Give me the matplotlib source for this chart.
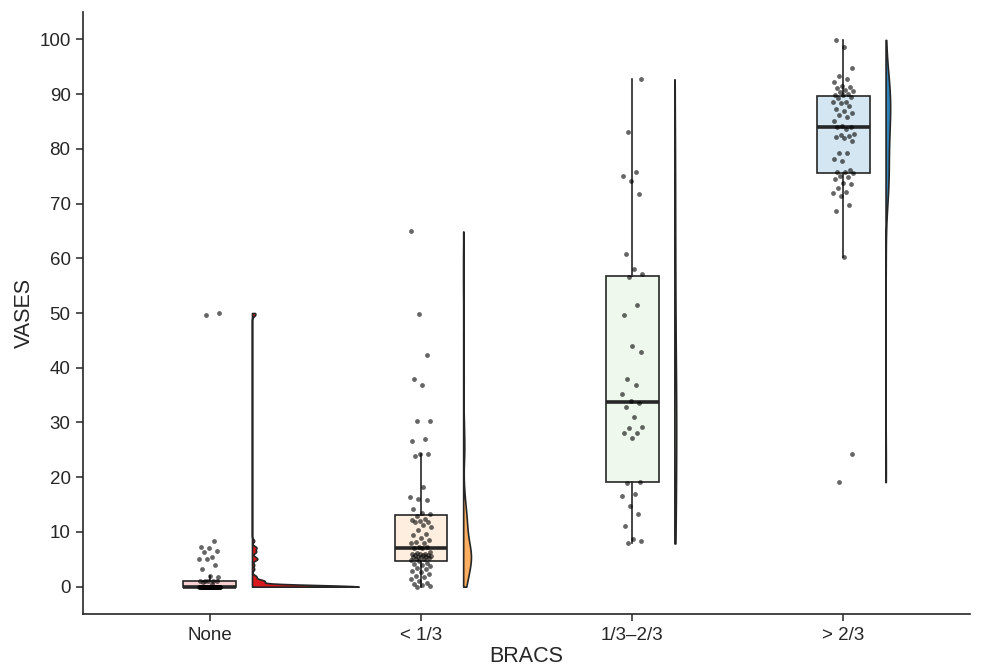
import numpy as np
import matplotlib
matplotlib.use('Agg')
import matplotlib.pyplot as plt
from matplotlib import cbook, mlab

plt.rcParams['font.family'] = ['Liberation Sans', 'DejaVu Sans']

groups = ['None', '< 1/3', '1/3–2/3', '> 2/3']
colors = ['#d7191c', '#fdae61', '#abdda4', '#2b83ba']

# VASES scores per BRACS group
vases_none = [0.0] * 49 + [0.5, 0.8, 1.0, 1.0, 1.1, 1.1, 1.1,
                           1.8, 1.9, 3.2, 4.0, 5.0, 5.0, 5.4, 6.3, 6.5, 7.1, 7.2, 8.4,
                           49.6, 50.0]
vases_low = [0.0, 0.1, 0.3, 0.5, 0.7, 1.0, 1.4, 1.7, 2.0, 2.3, 2.6, 2.9, 3.2, 3.5,
             3.8, 4.0, 4.2, 4.4, 4.6,
             4.9, 5.0, 5.1, 5.2, 5.4, 5.4, 5.5, 5.5, 5.6, 5.7, 5.8, 5.8, 5.9, 6.0,
             6.0, 6.2, 6.3, 7.0,
             7.0, 7.2, 7.3, 8.0, 8.0, 8.1, 8.6, 8.9, 9.5, 9.7, 10.4, 10.9, 11.2,
             11.9, 11.9, 12.0, 12.1, 12.4, 13.0,
             13.2, 13.4, 14.2, 15.8, 16.1, 16.3, 18.2, 23.9, 24.2, 24.3, 26.7,
             27.0, 30.3, 30.3, 36.9, 38.0, 42.3, 49.9, 64.9]
vases_mid = [7.9, 8.3, 8.8, 11.1, 13.2, 14.7, 16.6, 16.9, 18.9, 19.1, 27.2, 28.0,
             28.0, 29.0, 29.2, 31.0, 32.8, 33.6, 34.0, 35.2, 36.9, 37.9, 42.8, 43.9,
             49.7, 51.4, 56.6, 57.2, 58.0, 60.8, 71.7, 74.1, 75.0, 75.7, 83.0, 92.7]
vases_high = [19.1, 24.3, 60.2, 68.7, 69.8, 71.4, 71.9, 72.2, 72.8, 73.6, 73.8, 74.5,
              74.8, 75.1, 75.6, 75.7, 75.7, 76.2, 77.7, 78.2, 79.3, 79.3, 81.5, 81.9,
              82.2, 82.3, 82.5, 82.8, 83.7, 84.0, 84.0, 84.2, 85.0, 85.8, 86.1, 86.5,
              87.0, 87.3, 87.8, 88.3, 88.5, 88.6, 89.2, 89.5, 89.8, 89.9, 90.0, 90.3,
              90.5, 90.8, 91.1, 91.3, 91.5, 92.2, 92.8, 93.3, 94.8, 98.7, 99.9]

data = [vases_none, vases_low, vases_mid, vases_high]
pos = np.arange(len(groups))


def nrd0_kde(values, coords):
    # Gaussian KDE with Silverman's rule of thumb bandwidth (R's bw.nrd0)
    v = np.asarray(values, float)
    sd = v.std(ddof=1)
    q1, q3 = np.percentile(v, [25, 75])
    bw = 0.9 * min(sd, (q3 - q1) / 1.34) * len(v) ** -0.2
    return mlab.GaussianKDE(v, bw_method=bw / sd).evaluate(coords)


fig = plt.figure(figsize=(9.85, 6.68), dpi=100)
ax = fig.add_axes([0.0843, 0.0808, 0.9005, 0.9012])

# half violins, widths scaled so every violin has the same area
stats = cbook.violin_stats(data, nrd0_kde, points=512)
dmax = np.array([s['vals'].max() for s in stats])
widths = 1.01 * dmax / dmax.max()
vp = ax.violin(stats, positions=pos + 0.2, widths=widths, side='high',
               showextrema=False)
for body, c in zip(vp['bodies'], colors):
    body.set_facecolor(c)
    body.set_edgecolor('#262626')
    body.set_linewidth(1.2)
    body.set_alpha(1)

# boxes
bp = ax.boxplot(data, positions=pos, widths=0.25, patch_artist=True,
                showfliers=False, showcaps=False,
                boxprops=dict(edgecolor='#262626', linewidth=1.2),
                whiskerprops=dict(color='#262626', linewidth=1.2),
                medianprops=dict(color='#262626', linewidth=2.6))
for patch, c in zip(bp['boxes'], colors):
    patch.set_facecolor(matplotlib.colors.to_rgba(c, 0.2))

# jittered points
for i, vals in enumerate(data):
    n = len(vals)
    jitter = ((np.arange(n) * 0.6180339887 + 0.3) % 1 - 0.5) * 0.1
    ax.scatter(i + jitter, vals, s=12, color='black', alpha=0.6,
               linewidths=0, zorder=3)

ax.set_xlim(-0.6, 3.6)
ax.set_ylim(-5, 105)
ax.set_xticks(pos)
ax.set_xticklabels(groups)
ax.set_yticks(np.arange(0, 101, 10))
ax.tick_params(length=5, width=1.1, color='#262626', labelsize=13.5,
               labelcolor='#262626', pad=4)
for side in ['top', 'right']:
    ax.spines[side].set_visible(False)
for side in ['left', 'bottom']:
    ax.spines[side].set_linewidth(1.2)
    ax.spines[side].set_color('#262626')

ax.set_xlabel('BRACS', fontsize=15.5, color='#262626', labelpad=2)
ax.set_ylabel('VASES', fontsize=15.5, color='#262626', labelpad=3)

fig.savefig('out.png', dpi=100)
